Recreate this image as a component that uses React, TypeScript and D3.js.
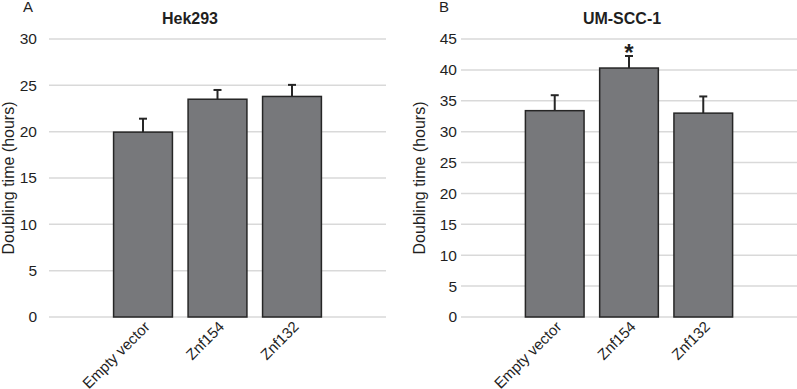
import React from 'react';
import * as d3 from 'd3';

const categories = ['Empty vector', 'Znf154', 'Znf132'];
const hekMeans = [19.95, 23.5, 23.8];
const hekErrors = [1.45, 1.0, 1.25];
const umMeans = [33.4, 40.3, 33.0];
const umErrors = [2.5, 1.95, 2.7];
const umStars = ['', '*', ''];
const hekTicks = [0, 5, 10, 15, 20, 25, 30];
const umTicks = [0, 5, 10, 15, 20, 25, 30, 35, 40, 45];

const FONT = '"Liberation Sans", Arial, sans-serif';
const TEXT = '#1f1f1f';

type PanelProps = {
  letter: string;
  letterX: number;
  title: string;
  titleX: number;
  x0: number;
  x1: number;
  labelX: number;
  axisTitleX: number;
  ticks: number[];
  means: number[];
  errors: number[];
  stars?: string[];
};

const Panel = ({ letter, letterX, title, titleX, x0, x1, labelX, axisTitleX, ticks, means, errors, stars }: PanelProps) => {
  const y = d3.scaleLinear().domain([0, d3.max(ticks)!]).range([317, 39]);
  const x = d3.scaleBand().domain(categories).range([x0, x1]).paddingInner(0.21).paddingOuter(0.867);

  return (
    <g fontFamily={FONT} fill={TEXT}>
      <text x={letterX} y={11.5} fontSize={15}>{letter}</text>
      <text x={titleX} y={24} fontSize={16} fontWeight="bold" textAnchor="middle">{title}</text>

      {ticks.map((t) => (
        <g key={t}>
          <line x1={x0} x2={x1} y1={y(t)} y2={y(t)} stroke="#d9d9d9" strokeWidth={1.5} />
          <text x={labelX} y={y(t)} dy="0.35em" fontSize={15.5} textAnchor="end">{t}</text>
        </g>
      ))}

      <text
        transform={`translate(${axisTitleX},${(y(0) + y(d3.max(ticks)!)) / 2}) rotate(-90)`}
        textAnchor="middle"
        dy="0.35em"
        fontSize={16}
      >
        Doubling time (hours)
      </text>

      {categories.map((c, i) => {
        const bx = x(c)!;
        const cx = bx + x.bandwidth() / 2;
        const top = means[i] + errors[i];
        return (
          <g key={c}>
            <line x1={cx} x2={cx} y1={y(means[i])} y2={y(top)} stroke="#262626" strokeWidth={2} />
            <line x1={cx - 4} x2={cx + 4} y1={y(top)} y2={y(top)} stroke="#262626" strokeWidth={2} />
            <rect
              x={bx}
              y={y(means[i])}
              width={x.bandwidth()}
              height={y(0) - y(means[i])}
              fill="#77787b"
              stroke="#262626"
              strokeWidth={1.5}
            />
            {stars && stars[i] ? (
              <text x={cx} y={y(top) + 5} fontSize={24} fontWeight="bold" textAnchor="middle">{stars[i]}</text>
            ) : null}
            <text
              transform={`translate(${cx + 4},${y(0) + 7}) rotate(-45)`}
              textAnchor="end"
              dy="0.35em"
              fontSize={15}
            >
              {c}
            </text>
          </g>
        );
      })}
    </g>
  );
};

export default function App() {
  return (
    <svg
      width={797}
      height={389}
      style={{ position: 'absolute', left: 0, top: 0, background: '#fff' }}
    >
      <rect width={797} height={389} fill="#fff" />
      <Panel
        letter="A"
        letterX={23}
        title="Hek293"
        titleX={190}
        x0={49}
        x1={386}
        labelX={37}
        axisTitleX={8}
        ticks={hekTicks}
        means={hekMeans}
        errors={hekErrors}
      />
      <Panel
        letter="B"
        letterX={439}
        title="UM-SCC-1"
        titleX={622}
        x0={461}
        x1={797}
        labelX={457}
        axisTitleX={419}
        ticks={umTicks}
        means={umMeans}
        errors={umErrors}
        stars={umStars}
      />
    </svg>
  );
}
